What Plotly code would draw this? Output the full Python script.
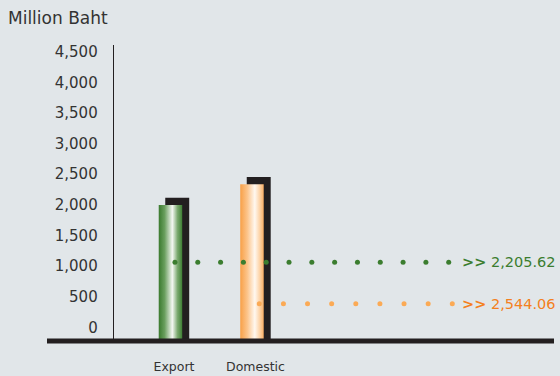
import numpy as np
import plotly.graph_objects as go

# ---- data ----
categories = ["Export", "Domestic"]
values = [2205.62, 2544.06]
value_labels = ["2,205.62", "2,544.06"]
tick_vals = [0, 500, 1000, 1500, 2000, 2500, 3000, 3500, 4000, 4500]
tick_text = ["0", "500", "1,000", "1,500", "2,000", "2,500", "3,000", "3,500", "4,000", "4,500"]
y_title = "Million Baht"

# ---- styling ----
BG = "#e1e6e9"
DARK = "#231f20"
TEXT = "#333333"
GREEN = "#3b7d2f"
ORANGE_TXT = "#f47f20"
ORANGE_DOT = "#fbaa55"
FONT = "DejaVu Sans"

bar_scales = [
    [[0, "#3a7a2e"], [0.25, "#6a9f5e"], [0.58, "#f4f7f2"], [0.8, "#7aa96e"], [1, "#3e7f33"]],
    [[0, "#f8a047"], [0.3, "#fcc48a"], [0.62, "#fff8f0"], [0.85, "#fdd0a0"], [1, "#fbb066"]],
]
dot_colors = [GREEN, ORANGE_DOT]
text_colors = [GREEN, ORANGE_TXT]

BAR_L, BAR_R = -0.187, 0.101
SHADOW_DX = 0.08
SHADOW_W_EXTRA = 0.006
X_RANGE = [-1.558, 4.663]
BAR_RANGE = [0, 4804]
SHADOW_RANGE = [-118.5, 4685.5]
TICK_RANGE = [-224, 4610]
dot_rows = [1061, 385]
dot_starts = [0.012, 1.047]
dot_ends = [3.371, 3.415]
dot_counts = [13, 9]
label_x = 3.51

fig = go.Figure()

# shadows (base subplot, drawn first)
for i, v in enumerate(values):
    x0 = i + BAR_L + SHADOW_DX
    x1 = i + BAR_R + SHADOW_DX + SHADOW_W_EXTRA
    y0 = SHADOW_RANGE[0]
    fig.add_trace(go.Scatter(x=[x0, x0, x1, x1, x0], y=[y0, v, v, y0, y0],
                             mode="lines", fill="toself", fillcolor=DARK,
                             line=dict(width=0), yaxis="y", hoverinfo="skip",
                             showlegend=False))
# gradient bars
for i, v in enumerate(values):
    x0 = i + BAR_L
    x1 = i + BAR_R
    fig.add_trace(go.Scatter(x=[x0, x0, x1, x1, x0], y=[0, v, v, 0, 0],
                             mode="lines", fill="toself",
                             fillgradient=dict(type="horizontal", colorscale=bar_scales[i],
                                               start=x0, stop=x1),
                             line=dict(width=0), yaxis="y2", hoverinfo="skip",
                             showlegend=False))
# dotted leader lines
for i in range(len(values)):
    xs = np.linspace(dot_starts[i], dot_ends[i], dot_counts[i])
    fig.add_trace(go.Scatter(x=xs, y=[dot_rows[i]] * len(xs), mode="markers",
                             marker=dict(size=5, color=dot_colors[i]),
                             yaxis="y3", hoverinfo="skip", showlegend=False))
    fig.add_annotation(x=label_x, y=dot_rows[i], xref="x", yref="y3",
                       xanchor="left", yanchor="middle", showarrow=False,
                       text="<b>&gt;&gt;</b> " + value_labels[i],
                       font=dict(family=FONT, size=14.5, color=text_colors[i]))

fig.add_annotation(x=-0.081, y=1.091, xref="paper", yref="paper",
                   xanchor="left", yanchor="middle", showarrow=False,
                   text=y_title, font=dict(family=FONT, size=17, color=TEXT))

# baseline
fig.add_shape(type="line", xref="paper", yref="paper", x0=0, x1=1, y0=0, y1=0,
              line=dict(color=DARK, width=5), layer="above")

fig.update_layout(
    width=560, height=376,
    margin=dict(l=47, r=6, t=45, b=35),
    paper_bgcolor=BG, plot_bgcolor=BG,
    font=dict(family=FONT, color=TEXT),
    xaxis=dict(range=X_RANGE, tickvals=[0, 1], ticktext=categories,
               showgrid=False, zeroline=False, showline=False, ticks="",
               automargin=False,
               ticklabelstandoff=16, tickfont=dict(size=12.5, color=TEXT)),
    yaxis=dict(range=SHADOW_RANGE, visible=False, showgrid=False, zeroline=False),
    yaxis2=dict(range=BAR_RANGE, overlaying="y", visible=False,
                showgrid=False, zeroline=False),
    yaxis3=dict(range=TICK_RANGE, overlaying="y", anchor="free", side="left",
                position=(112.7 - 47) / 507, tickvals=tick_vals, ticktext=tick_text,
                showgrid=False, zeroline=False, showline=True, linecolor=DARK,
                linewidth=1, ticks="", ticklabelstandoff=12, automargin=False,
                tickfont=dict(size=15, color=TEXT)),
)

fig.write_html("out.html")
